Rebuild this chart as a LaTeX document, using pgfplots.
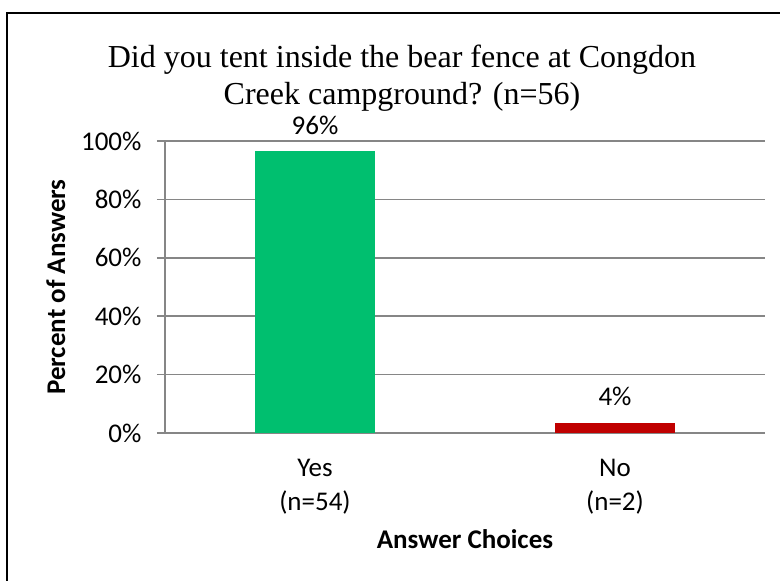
\documentclass[border=0pt]{standalone}
\usepackage{fontspec}
\setmainfont{Carlito}
\newfontfamily\titlefont{Liberation Serif}
\usepackage{pgfplots}
\pgfplotsset{compat=1.18}
\definecolor{barGreen}{RGB}{0,191,111}
\definecolor{barRed}{RGB}{192,0,0}
\definecolor{axGray}{RGB}{134,134,134}
\begin{document}
\begin{tikzpicture}
\path[use as bounding box] (0pt,0pt) rectangle (780pt,-581pt);
\draw[line width=2pt, black] (7pt,-585pt) -- (7pt,-12.5pt) -- (785pt,-12.5pt);
\begin{axis}[
  at={(165pt,-433pt)}, anchor=south west,
  scale only axis, width=600pt, height=292pt,
  xmin=-0.5, xmax=1.5, ymin=0, ymax=100,
  axis x line*=bottom, axis y line*=left,
  axis line style={axGray, line width=1.5pt, -},
  ytick={0,20,40,60,80,100},
  yticklabels={0\%,20\%,40\%,60\%,80\%,100\%},
  ymajorgrids, grid style={axGray, line width=1.5pt},
  xtick={0,1},
  xticklabels={Yes\\(n=54),No\\(n=2)},
  xtick style={draw=none},
  minor xtick={-0.5,0.5,1.5},
  minor tick length=8pt,
  ytick style={axGray, line width=1.5pt},
  major tick length=8pt,
  tick align=outside,
  tick label style={font=\fontsize{27}{34}\selectfont, black},
  yticklabel style={xshift=-12pt},
  xticklabel style={align=center, yshift=-15pt},
  ylabel={Percent of Answers},
  ylabel style={font=\fontsize{27}{30}\selectfont\bfseries, at={(axis description cs:-0.182,0.5)}, anchor=center},
  xlabel={Answer Choices},
  xlabel style={font=\fontsize{27}{30}\selectfont\bfseries, at={(axis description cs:0.5,-0.396)}, anchor=base},
  title={Did you tent inside the bear fence at Congdon\\Creek campground? (n=56)},
  title style={font=\titlefont\fontsize{32}{37}\selectfont, align=center, at={(axis description cs:0.395,1)}, anchor=south, yshift=20pt},
  ybar, bar width=120pt,
  nodes near coords={\pgfmathprintnumber[fixed,precision=0,assume math mode=true]{\pgfplotspointmeta}\%},
  every node near coord/.style={font=\fontsize{27}{30}\selectfont, anchor=base, yshift=17pt, black},
  clip=false,
]
\addplot[fill=barGreen, draw=none, bar shift=0pt] coordinates {(0,96.43)};
\addplot[fill=barRed, draw=none, bar shift=0pt] coordinates {(1,3.57)};
\end{axis}
\end{tikzpicture}
\end{document}
